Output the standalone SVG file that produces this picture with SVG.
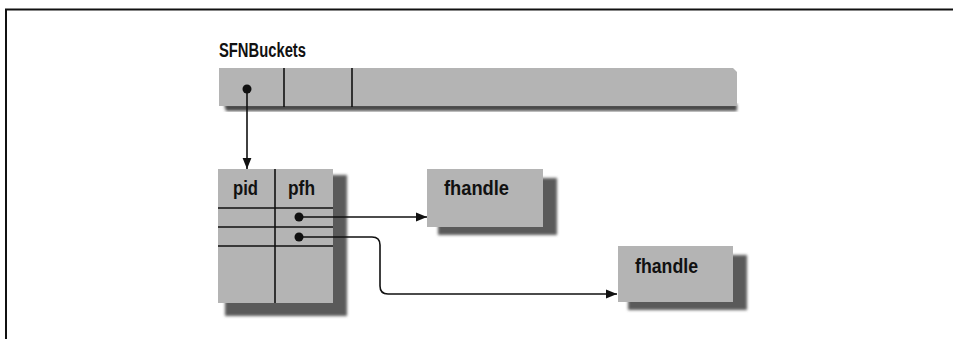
<svg xmlns="http://www.w3.org/2000/svg" width="953" height="339" viewBox="0 0 953 339">
<style>
.lbl{font-family:"Liberation Sans Narrow","Liberation Sans",Arial,sans-serif;font-weight:bold;fill:#111;}
.box{fill:#b4b4b4;}
.shadow{fill:#5a5a5a;filter:url(#blur);}
.ln{stroke:#111;stroke-width:1.6;fill:none;}
.conn{stroke:#111;stroke-width:1.6;fill:none;}
.dot{fill:#111;}
</style>
<defs>
<filter id="blur" x="-10%" y="-10%" width="120%" height="120%"><feGaussianBlur stdDeviation="1.5"/></filter>
<marker id="arr" viewBox="0 0 10 10" refX="10" refY="5" markerWidth="11" markerHeight="11" markerUnits="userSpaceOnUse" orient="auto"><path d="M0,1 L10,5 L0,9 z" fill="#111"/></marker>
</defs>
<rect width="953" height="339" fill="#fff"/>
<path d="M6,339 V9.5 H953" stroke="#111" stroke-width="2" fill="none"/>

<g id="sfnbuckets">
<text class="lbl" x="219" y="57" font-size="20" textLength="87" lengthAdjust="spacingAndGlyphs">SFNBuckets</text>
<path d="M224,104 H737 V111 H226 Z" fill="#4a4a4a" filter="url(#blur)"/>
<path class="box" d="M219,68 H733 L737,72 V106 H219 Z"/>
<line class="ln" x1="284" y1="68" x2="284" y2="107"/>
<line class="ln" x1="352" y1="68" x2="352" y2="107"/>
<circle class="dot" cx="247" cy="89" r="4.5"/>
</g>

<g id="table">
<rect class="shadow" x="225" y="175" width="122" height="141"/>
<rect class="box" x="218" y="169" width="115" height="134"/>
<line class="ln" x1="275" y1="169" x2="275" y2="303"/>
<line class="ln" x1="218" y1="208" x2="333" y2="208"/>
<line class="ln" x1="218" y1="227" x2="333" y2="227"/>
<line class="ln" x1="218" y1="246" x2="333" y2="246"/>
<text class="lbl" x="233" y="195" font-size="20" textLength="25" lengthAdjust="spacingAndGlyphs">pid</text>
<text class="lbl" x="288" y="195" font-size="20" textLength="27" lengthAdjust="spacingAndGlyphs">pfh</text>
<circle class="dot" cx="299" cy="217" r="4.5"/>
<circle class="dot" cx="299" cy="237" r="4.5"/>
</g>

<g id="fhandle1">
<rect class="shadow" x="438" y="178" width="119" height="57"/>
<rect class="box" x="427" y="169" width="116" height="58"/>
<text class="lbl" x="444" y="195" font-size="20" textLength="65" lengthAdjust="spacingAndGlyphs">fhandle</text>
</g>

<g id="fhandle2">
<rect class="shadow" x="628" y="255" width="119" height="55"/>
<rect class="box" x="618" y="246" width="115" height="56"/>
<text class="lbl" x="635" y="273" font-size="20" textLength="63" lengthAdjust="spacingAndGlyphs">fhandle</text>
</g>

<g id="connectors">
<line class="conn" x1="247" y1="89" x2="247" y2="169" marker-end="url(#arr)"/>
<line class="conn" x1="299" y1="217" x2="427" y2="217" marker-end="url(#arr)"/>
<path class="conn" d="M299,237 H372 Q380,237 380,245 V286 Q380,294 388,294 H617" marker-end="url(#arr)"/>
</g>
</svg>
